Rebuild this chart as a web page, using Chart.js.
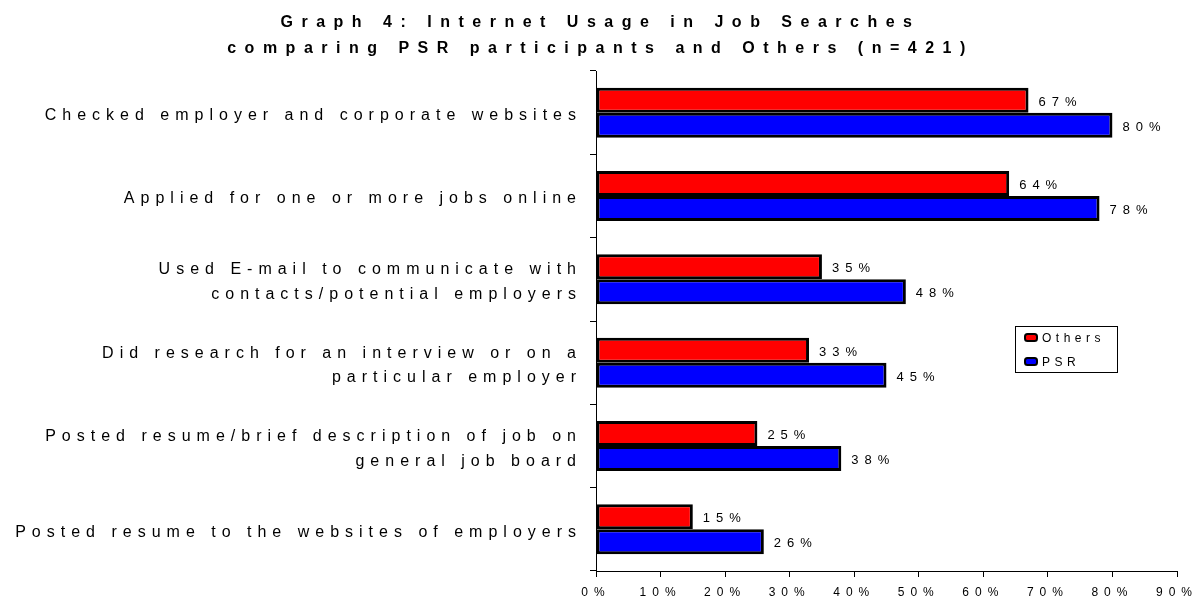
<!DOCTYPE html>
<html>
<head>
<meta charset="utf-8">
<script src="https://cdn.jsdelivr.net/npm/chart.js@4/dist/chart.umd.min.js"></script>
<style>
  html, body { margin: 0; background: #fff; }
  #wrap { width: 1193px; height: 600px; }
</style>
</head>
<body>
<div id="wrap"><canvas id="usageChart"></canvas></div>
<script>
// Survey answers, one row per job search activity
const activities = [
    'Checked employer and corporate websites',
    'Applied for one or more jobs online',
    ['Used E-mail to communicate with', 'contacts/potential employers'],
    ['Did research for an interview or on a', 'particular employer'],
    ['Posted resume/brief description of job on', 'general job board'],
    'Posted resume to the websites of employers'
];
const seriesNames = ['Others', 'PSR'];
const othersValues = [67, 64, 35, 33, 25, 15];
const psrValues = [80, 78, 48, 45, 38, 26];
const xMax = 90;
const xStep = 10;
const titleLines = [
    'Graph 4: Internet Usage in Job Searches',
    'comparing PSR participants and Others (n=421)'
];

const FONT = 'Arial, "Liberation Sans", sans-serif';

// Spaced-out lettering for the axis labels
const spacedText = {
    id: 'spacedText',
    beforeLayout(chart) {
        chart.ctx.letterSpacing = '6px';
    },
    beforeDraw(chart) {
        chart.ctx.letterSpacing = '6px';
    }
};

// Two line bold heading, centred over the whole canvas
const heading = {
    id: 'heading',
    afterDraw(chart) {
        const { ctx } = chart;
        ctx.save();
        ctx.font = 'bold 16px ' + FONT;
        ctx.letterSpacing = '8.5px';
        ctx.fillStyle = '#000';
        ctx.textAlign = 'center';
        ctx.textBaseline = 'middle';
        titleLines.forEach((line, i) => {
            // trailing spacing shifts the visual centre, nudge it back
            ctx.fillText(line, chart.width / 2 + 4, 23 + i * 26);
        });
        ctx.restore();
    }
};

// Percent labels to the right of each bar
const barValueLabels = {
    id: 'barValueLabels',
    afterDatasetsDraw(chart) {
        const { ctx } = chart;
        ctx.save();
        ctx.font = '13px ' + FONT;
        ctx.letterSpacing = '6px';
        ctx.fillStyle = '#000';
        ctx.textAlign = 'left';
        ctx.textBaseline = 'middle';
        chart.data.datasets.forEach((ds, i) => {
            chart.getDatasetMeta(i).data.forEach((bar, j) => {
                ctx.fillText(ds.data[j] + '%', bar.x + 10, bar.y + 2);
            });
        });
        ctx.restore();
    }
};

// Small boxed legend sitting inside the plot on the right
const boxLegend = {
    id: 'boxLegend',
    afterDraw(chart) {
        const { ctx, chartArea } = chart;
        const left = chartArea.right - 162;
        const top = chartArea.top + 255;
        const w = 102, h = 46;
        ctx.save();
        ctx.fillStyle = '#fff';
        ctx.fillRect(left, top, w, h);
        ctx.strokeStyle = '#000';
        ctx.lineWidth = 1;
        ctx.strokeRect(left + 0.5, top + 0.5, w, h);
        ctx.font = '12px ' + FONT;
        ctx.letterSpacing = '4.5px';
        ctx.textBaseline = 'middle';
        chart.data.datasets.forEach((ds, i) => {
            const y = top + 12 + i * 24;
            ctx.beginPath();
            ctx.roundRect(left + 10, y - 4, 12, 7, 2.5);
            ctx.fillStyle = ds.backgroundColor;
            ctx.fill();
            ctx.lineWidth = 2;
            ctx.strokeStyle = '#000';
            ctx.stroke();
            ctx.fillStyle = '#000';
            ctx.fillText(ds.label, left + 27, y + 1);
        });
        ctx.restore();
    }
};

const usageData = {
    labels: activities,
    datasets: [
        {
            label: seriesNames[0],
            data: othersValues,
            backgroundColor: '#ff0000',
            borderColor: '#000',
            borderWidth: 3,
            borderSkipped: false,
            categoryPercentage: 0.6,
            barPercentage: 1
        },
        {
            label: seriesNames[1],
            data: psrValues,
            backgroundColor: '#0000ff',
            borderColor: '#000',
            borderWidth: 3,
            borderSkipped: false,
            categoryPercentage: 0.6,
            barPercentage: 1
        }
    ]
};

const usageConfig = {
    type: 'bar',
    data: usageData,
    options: {
        indexAxis: 'y',
        responsive: true,
        maintainAspectRatio: false,
        animation: false,
        layout: { padding: { top: 71, left: 0, right: 16, bottom: 0 } },
        plugins: {
            legend: { display: false },
            tooltip: { enabled: false },
            title: { display: false }
        },
        scales: {
            x: {
                min: 0,
                max: xMax,
                ticks: {
                    stepSize: xStep,
                    autoSkip: false,
                    maxRotation: 0,
                    color: '#000',
                    padding: 8,
                    font: { family: FONT, size: 12 },
                    callback: v => v + '%'
                },
                grid: { drawOnChartArea: false, color: '#000', tickLength: 6 },
                border: { color: '#000', width: 1 },
                afterFit: s => {
                    s.height = 29;
                    s.paddingLeft = 0;
                    s.paddingRight = 0;
                }
            },
            y: {
                offset: true,
                ticks: {
                    color: '#000',
                    padding: 8,
                    labelOffset: 3,
                    font: { family: FONT, size: 16, lineHeight: 1.55 }
                },
                grid: { offset: true, drawOnChartArea: false, color: '#000', tickLength: 6 },
                border: { color: '#000', width: 1 },
                afterFit: s => {
                    s.width = 596;
                    s.paddingTop = 0;
                    s.paddingBottom = 0;
                }
            }
        }
    },
    plugins: [spacedText, heading, barValueLabels, boxLegend]
};

let usageChart = new Chart(document.getElementById('usageChart'), usageConfig);
</script>
</body>
</html>
